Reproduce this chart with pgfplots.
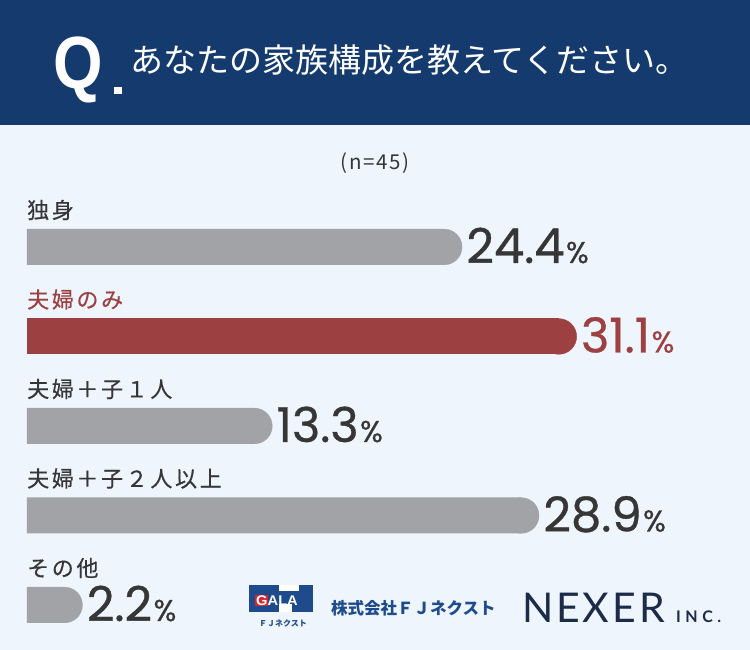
\documentclass[border=0pt]{standalone}
\usepackage{pgfplots}
\pgfplotsset{compat=1.18}
\usepackage{fontspec}
\setmainfont{Noto Sans CJK JP}
\newfontfamily\jp{Noto Sans CJK JP}
\newfontfamily\jpl{Noto Sans CJK JP}[LetterSpace=12, FakeBold=0.4]
\newfontfamily\jpn{Noto Sans CJK JP}[LetterSpace=8]
\newfontfamily\num{Poppins}[FakeBold=0.7]
\newfontfamily\qfont{Liberation Sans}
\newfontfamily\logofont{Lato}[LetterSpace=7]
\newfontfamily\incfont{Lato}[LetterSpace=28]

\definecolor{header}{HTML}{143A6E}
\definecolor{bgc}{HTML}{EEF5FC}
\definecolor{barg}{HTML}{A2A3A7}
\definecolor{hl}{HTML}{9C4042}
\definecolor{txt}{HTML}{363636}
\definecolor{navy}{HTML}{1B2B48}
\definecolor{gala}{HTML}{1E4B8C}
\definecolor{galared}{HTML}{D7262C}

% value label: large number, small percent sign
\newcommand{\vallabel}[1]{{\num\fontsize{48}{48}\selectfont\pgfmathprintnumber[fixed,fixed zerofill,precision=1]{#1}}\kern1.5pt{\num\fontsize{30}{30}\selectfont\%}}

\begin{document}
\begin{tikzpicture}[x=1pt,y=1pt]
% page background and header band
\fill[bgc] (0,0) rectangle (750,650);
\fill[header] (0,525) rectangle (750,650);

% question mark-up
\node[anchor=base west, inner sep=0, text=white] at (53,561)
  {\qfont\bfseries\fontsize{74}{74}\selectfont\scalebox{0.86}[1]{Q}};
\fill[white] (114,556) rectangle (122,563);
\node[anchor=west, inner sep=0, text=white] at (130,590)
  {\jp\fontsize{33}{33}\selectfont あなたの家族構成を教えてください。};

% sample size
\node[text=txt, inner sep=0] at (375,487) {\jpn\fontsize{20.5}{20.5}\selectfont (n=45)};

% categories from the bottom (0) to the top (4)
\begin{axis}[
  at={(27pt,447.75pt)}, anchor=north west,
  scale only axis, width=684pt, height=447.5pt,
  xmin=0, xmax=40, ymin=-0.5, ymax=4.5,
  hide axis, clip=false,
  xbar, bar width=36pt,
  point meta=x,
  /pgf/number format/assume math mode=true,
  nodes near coords={\vallabel{\pgfplotspointmeta}},
  every node near coord/.append style={anchor=base west, inner sep=0, xshift=22pt, yshift=-16pt},
]
\addplot[bar shift=0pt, color=barg, fill=barg, draw=none, mark=*, mark size=17.8pt,
  mark options={solid, fill=barg, draw=barg, line width=0.4pt},
  every node near coord/.append style={text=txt}]
  coordinates {(24.4,4) (13.3,2) (28.9,1) (2.2,0)};
\addplot[bar shift=0pt, color=hl, fill=hl, draw=none, mark=*, mark size=17.8pt,
  mark options={solid, fill=hl, draw=hl, line width=0.4pt},
  every node near coord/.append style={text=hl}]
  coordinates {(31.1,3)};

% category names above the bars
\node[anchor=west, inner sep=0, yshift=37pt, text=txt] at (axis cs:0,4) {\jpl\fontsize{22}{22}\selectfont 独身};
\node[anchor=west, inner sep=0, yshift=37pt, text=hl] at (axis cs:0,3) {\jpl\fontsize{22}{22}\selectfont 夫婦のみ};
\node[anchor=west, inner sep=0, yshift=37pt, text=txt] at (axis cs:0,2) {\jpl\fontsize{22}{22}\selectfont 夫婦＋子１人};
\node[anchor=west, inner sep=0, yshift=37pt, text=txt] at (axis cs:0,1) {\jpl\fontsize{22}{22}\selectfont 夫婦＋子２人以上};
\node[anchor=west, inner sep=0, yshift=37pt, text=txt] at (axis cs:0,0) {\jpl\fontsize{22}{22}\selectfont その他};
\end{axis}

% company marks in the footer
\fill[gala] (249,38) rectangle (313,65);
\fill[white] (279,38) rectangle (292,46);
\fill[white] (279,59) rectangle (299,65);
\fill[galared] (255,44) rectangle (268,55);
\node[anchor=west, text=white, inner sep=0] at (256,49.5) {\qfont\bfseries\fontsize{14}{14}\selectfont\scalebox{1.05}[1]{GALA}};
\node[text=gala, inner sep=0] at (283,26.5) {\jp\bfseries\fontsize{8}{8}\selectfont ＦＪネクスト};
\node[anchor=west, text=gala, inner sep=0] at (331,42) {\jp\bfseries\fontsize{16.5}{16.5}\selectfont 株式会社ＦＪネクスト};
\node[anchor=base west, text=navy, inner sep=0] at (522,27) {\logofont\fontsize{41}{41}\selectfont NEXER};
\node[anchor=base west, text=navy, inner sep=0] at (676,27) {\incfont\bfseries\fontsize{16}{16}\selectfont INC.};
\end{tikzpicture}
\end{document}
